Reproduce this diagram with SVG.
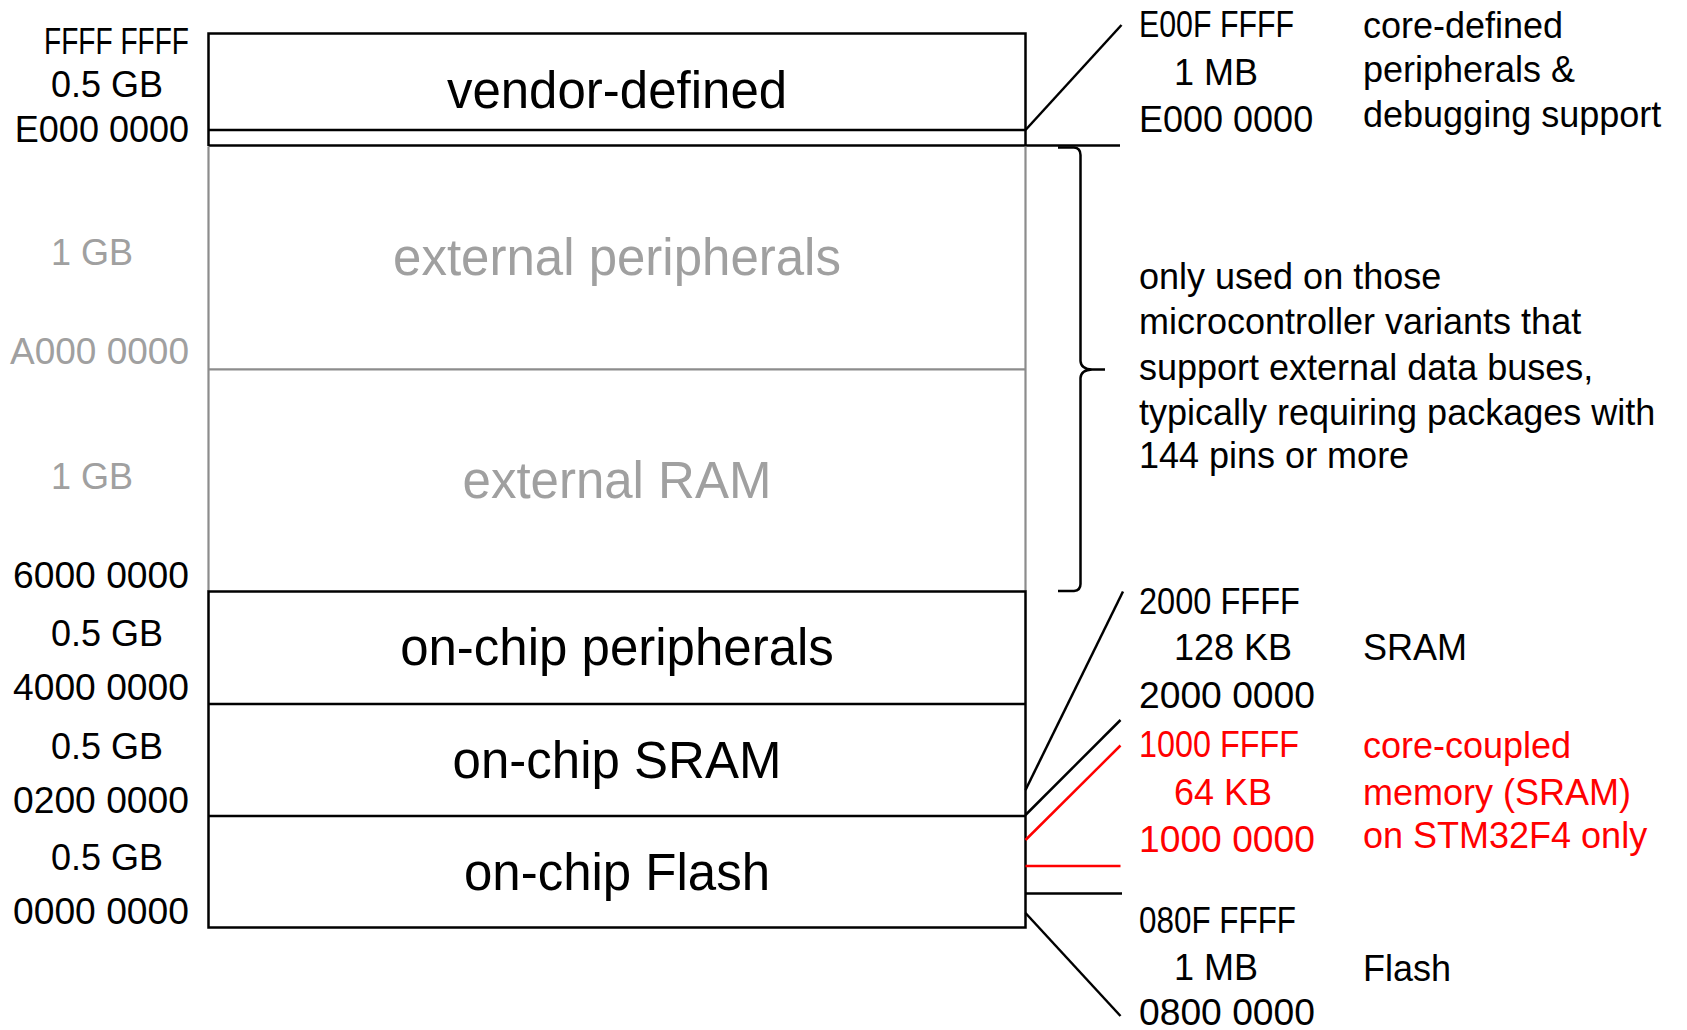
<svg xmlns="http://www.w3.org/2000/svg" width="1687" height="1030" viewBox="0 0 1687 1030">
  <style>
    text { font-family: "Liberation Sans", Arial, sans-serif; fill: #000; }
    .big { font-size: 51px; text-anchor: middle; }
    .sm { font-size: 36px; }
    .end { text-anchor: end; }
    .grey { fill: #a0a0a0; }
    .red { fill: #ff0000; }
    .ln { stroke: #000; stroke-width: 2.5; fill: none; }
    .gl { stroke: #8c8c8c; stroke-width: 2.2; fill: none; }
    .rl { stroke: #ff0000; stroke-width: 2.5; fill: none; }
  </style>
  <rect width="1687" height="1030" fill="#fff"/>

  <!-- memory map column -->
  <g id="vendor-defined">
    <path class="ln" d="M208.5,146 V33.5 H1025.5 V146"/>
    <line class="ln" x1="208.5" y1="130" x2="1025.5" y2="130"/>
    <text class="big" x="617" y="108">vendor-defined</text>
  </g>
  <g id="core-band">
    <line class="ln" x1="208.5" y1="145.5" x2="1120" y2="145.5"/>
  </g>
  <g id="external-peripherals">
    <path class="gl" d="M208.5,146.5 V591 M1025.5,146.5 V591"/>
    <line class="gl" x1="208.5" y1="369.3" x2="1025.5" y2="369.3"/>
    <text class="big grey" x="617" y="275">external peripherals</text>
  </g>
  <g id="external-ram">
    <text class="big grey" x="617" y="498">external RAM</text>
  </g>
  <g id="onchip-peripherals">
    <rect class="ln" x="208.5" y="591.5" width="817" height="336"/>
    <text class="big" x="617" y="665">on-chip peripherals</text>
  </g>
  <g id="onchip-sram">
    <line class="ln" x1="208.5" y1="704" x2="1025.5" y2="704"/>
    <text class="big" x="617" y="778">on-chip SRAM</text>
  </g>
  <g id="onchip-flash">
    <line class="ln" x1="208.5" y1="816" x2="1025.5" y2="816"/>
    <text class="big" x="617" y="890">on-chip Flash</text>
  </g>

  <!-- left address scale -->
  <g id="left-scale">
    <text class="sm end" x="189" y="53.5" textLength="145" lengthAdjust="spacingAndGlyphs">FFFF FFFF</text>
    <text class="sm" x="51" y="97">0.5 GB</text>
    <text class="sm end" x="189" y="142">E000 0000</text>
    <text class="sm grey" x="51" y="265">1 GB</text>
    <text class="sm end grey" x="189" y="363.5" textLength="179" lengthAdjust="spacingAndGlyphs">A000 0000</text>
    <text class="sm grey" x="51" y="489">1 GB</text>
    <text class="sm end" x="189" y="587.5" textLength="176" lengthAdjust="spacingAndGlyphs">6000 0000</text>
    <text class="sm" x="51" y="646">0.5 GB</text>
    <text class="sm end" x="189" y="700" textLength="176" lengthAdjust="spacingAndGlyphs">4000 0000</text>
    <text class="sm" x="51" y="758.5">0.5 GB</text>
    <text class="sm end" x="189" y="812.5" textLength="176" lengthAdjust="spacingAndGlyphs">0200 0000</text>
    <text class="sm" x="51" y="869.5">0.5 GB</text>
    <text class="sm end" x="189" y="923.5" textLength="176" lengthAdjust="spacingAndGlyphs">0000 0000</text>
  </g>

  <!-- callout leaders and brace -->
  <g id="connectors">
    <line class="ln" x1="1025.5" y1="130" x2="1121.5" y2="25"/>
    <path class="ln" d="M1058,147.5 H1074 Q1080.5,148 1080.5,155 V361 Q1081,369 1092,369.5 H1105 M1092,369.5 Q1081,370 1080.5,378 V584 Q1080.5,590.5 1074,591 H1058"/>
    <line class="ln" x1="1025.5" y1="790" x2="1123" y2="591.5"/>
    <line class="ln" x1="1025.5" y1="815" x2="1120.5" y2="720"/>
    <line class="rl" x1="1025.5" y1="840" x2="1120.5" y2="745.5"/>
    <line class="rl" x1="1025.5" y1="866" x2="1120.5" y2="866"/>
    <line class="ln" x1="1025.5" y1="893.5" x2="1122" y2="893.5"/>
    <line class="ln" x1="1025.5" y1="913" x2="1120.5" y2="1016"/>
  </g>

  <!-- core-defined region callout -->
  <g id="core-callout">
    <text class="sm" x="1139" y="36.5" textLength="155" lengthAdjust="spacingAndGlyphs">E00F FFFF</text>
    <text class="sm" x="1174" y="85">1 MB</text>
    <text class="sm" x="1139" y="131.5">E000 0000</text>
    <text class="sm" x="1363" y="37.5">core-defined</text>
    <text class="sm" x="1363" y="82">peripherals &amp;</text>
    <text class="sm" x="1363" y="127">debugging support</text>
  </g>

  <!-- external bus note -->
  <g id="external-note">
    <text class="sm" x="1139" y="288.5">only used on those</text>
    <text class="sm" x="1139" y="334">microcontroller variants that</text>
    <text class="sm" x="1139" y="379.5">support external data buses,</text>
    <text class="sm" x="1139" y="424.5">typically requiring packages with</text>
    <text class="sm" x="1139" y="468">144 pins or more</text>
  </g>

  <!-- SRAM callout -->
  <g id="sram-callout">
    <text class="sm" x="1139" y="613.5" textLength="161" lengthAdjust="spacingAndGlyphs">2000 FFFF</text>
    <text class="sm" x="1174" y="660">128 KB</text>
    <text class="sm" x="1363" y="660">SRAM</text>
    <text class="sm" x="1139" y="707.5" textLength="176" lengthAdjust="spacingAndGlyphs">2000 0000</text>
  </g>

  <!-- CCM callout -->
  <g id="ccm-callout">
    <text class="sm red" x="1139" y="756.5" textLength="160" lengthAdjust="spacingAndGlyphs">1000 FFFF</text>
    <text class="sm red" x="1174" y="805">64 KB</text>
    <text class="sm red" x="1139" y="851.5" textLength="176" lengthAdjust="spacingAndGlyphs">1000 0000</text>
    <text class="sm red" x="1363" y="758">core-coupled</text>
    <text class="sm red" x="1363" y="805">memory (SRAM)</text>
    <text class="sm red" x="1363" y="848">on STM32F4 only</text>
  </g>

  <!-- Flash callout -->
  <g id="flash-callout">
    <text class="sm" x="1139" y="932.5" textLength="157" lengthAdjust="spacingAndGlyphs">080F FFFF</text>
    <text class="sm" x="1174" y="980">1 MB</text>
    <text class="sm" x="1363" y="980.5">Flash</text>
    <text class="sm" x="1139" y="1025" textLength="176" lengthAdjust="spacingAndGlyphs">0800 0000</text>
  </g>
</svg>
